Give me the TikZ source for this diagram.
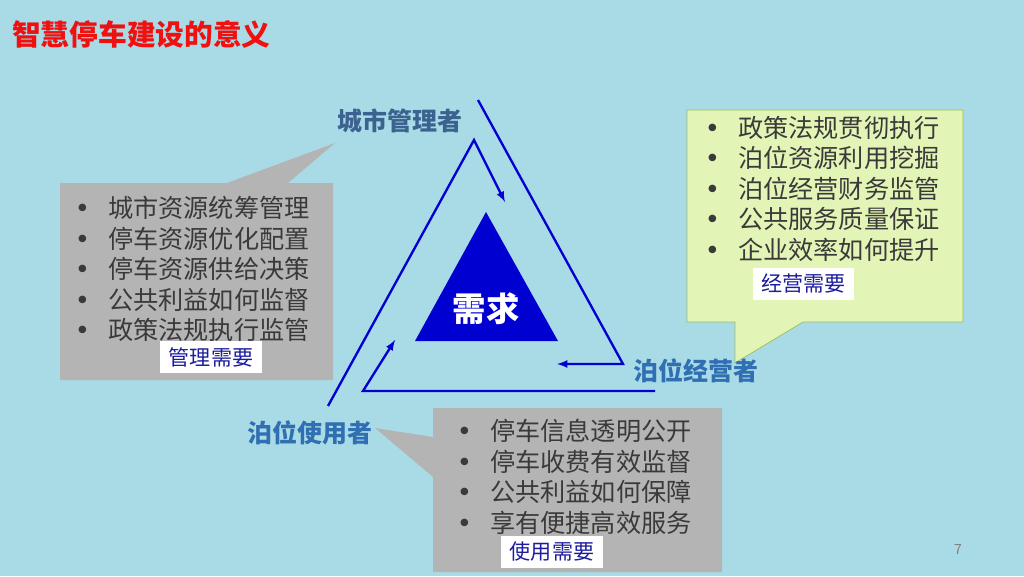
\documentclass[tikz,border=0pt]{standalone}
\usepackage{fontspec}
\setmainfont{Noto Sans CJK SC}
\newfontfamily\dotfont{DejaVu Sans}
\usepackage{tikz}
\usetikzlibrary{arrows}

\definecolor{bgcyan}{HTML}{A9DBE7}
\definecolor{roleblue}{HTML}{2F6FB2}
\definecolor{mgrblue}{HTML}{3C6290}
\definecolor{needblue}{HTML}{1C1C9E}
\definecolor{boxgray}{HTML}{B4B4B4}
\definecolor{boxgreen}{HTML}{E3F5B6}
\definecolor{edgegreen}{HTML}{9CBB5C}
\definecolor{textgray}{HTML}{3A3A3A}
\definecolor{linkblue}{HTML}{0000D0}
\definecolor{titlered}{HTML}{F01010}

\newcommand{\bitem}[1]{\makebox[26pt][l]{\makebox[8pt][c]{\dotfont\fontsize{22}{22}\selectfont•}}#1}

\begin{document}
\begin{tikzpicture}[x=0.03cm, y=-0.03cm,
    role/.style={font=\fontsize{21.3}{24}\selectfont\bfseries, text=roleblue, inner sep=0},
    needs/.style={fill=white, text=needblue, font=\fontsize{18}{20}\selectfont,
        inner sep=0, minimum width=87pt, minimum height=27pt},
    items/.style={align=left, anchor=west, inner sep=0, text=textgray,
        font=\fontsize{21.5}{26}\selectfont},
    link/.style={draw=linkblue, line width=2pt},
]

    % background
    \useasboundingbox (0,0) rectangle (1024,576);
    \fill[bgcyan] (0,0) rectangle (1024,576);

    % title
    \node[anchor=west, inner sep=0, text=titlered, font=\fontsize{24.5}{28}\selectfont\bfseries]
        (title) at (12,34) {智慧停车建设的意义};

    % callouts
    \fill[boxgray] (60,183) -- (227,183) -- (335,143) -- (288,183) -- (333,183)
        -- (333,380) -- (60,380) -- cycle;
    \filldraw[fill=boxgreen, draw=edgegreen, line width=.6pt] (687,110) -- (963,110)
        -- (963,322) -- (803,322) -- (735,363) -- (735,322) -- (687,322) -- cycle;
    \fill[boxgray] (433,408) -- (722,408) -- (722,572) -- (433,572) -- (433,477)
        -- (375,428) -- (433,437) -- cycle;

    \node[items] (mgrlist) at (77.5,269) {\bitem{城市资源统筹管理}\\\bitem{停车资源优化配置}\\
        \bitem{停车资源供给决策}\\\bitem{公共利益如何监督}\\\bitem{政策法规执行监管}};
    \node[needs] (mgrneed) at (211,357) {管理需要};

    \node[items] (oprlist) at (707.5,188.5) {\bitem{政策法规贯彻执行}\\\bitem{泊位资源利用挖掘}\\
        \bitem{泊位经营财务监管}\\\bitem{公共服务质量保证}\\\bitem{企业效率如何提升}};
    \node[needs] (oprneed) at (803.5,284) {经营需要};

    \node[items] (usrlist) at (459.5,477) {\bitem{停车信息透明公开}\\\bitem{停车收费有效监督}\\
        \bitem{公共利益如何保障}\\\bitem{享有便捷高效服务}};
    \node[needs] (usrneed) at (552,552) {使用需要};

    % cycle of arrows
    \coordinate (topout) at (478,100);
    \coordinate (topin) at (474,140);
    \coordinate (rightout) at (623,364);
    \coordinate (botright) at (655,391);
    \coordinate (botleft) at (363,391);
    \coordinate (leftout) at (328,406);
    \coordinate (tipmgr) at (505,202);
    \coordinate (tipopr) at (557,364);
    \coordinate (tipusr) at (395,340);

    \draw[link, -latex] (topout) -- (rightout) -- (tipopr);
    \draw[link, -latex] (botright) -- (botleft) -- (tipusr);
    \draw[link, -latex] (leftout) -- (topin) -- (tipmgr);

    % demand triangle
    \fill[linkblue] (486,212) -- (558,341) -- (415,341) -- cycle;
    \node[text=white, inner sep=0, font=\fontsize{28.5}{30}\selectfont\bfseries]
        (demand) at (486,309) {需求};

    % roles
    \node[role, text=mgrblue] (mgr) at (400,121) {城市管理者};
    \node[role] (opr) at (696,371) {泊位经营者};
    \node[role] (usr) at (310,433) {泊位使用者};

    % page number
    \node[text=gray, inner sep=0, font=\fontsize{12}{14}\selectfont] (page) at (958,549) {7};

\end{tikzpicture}
\end{document}
